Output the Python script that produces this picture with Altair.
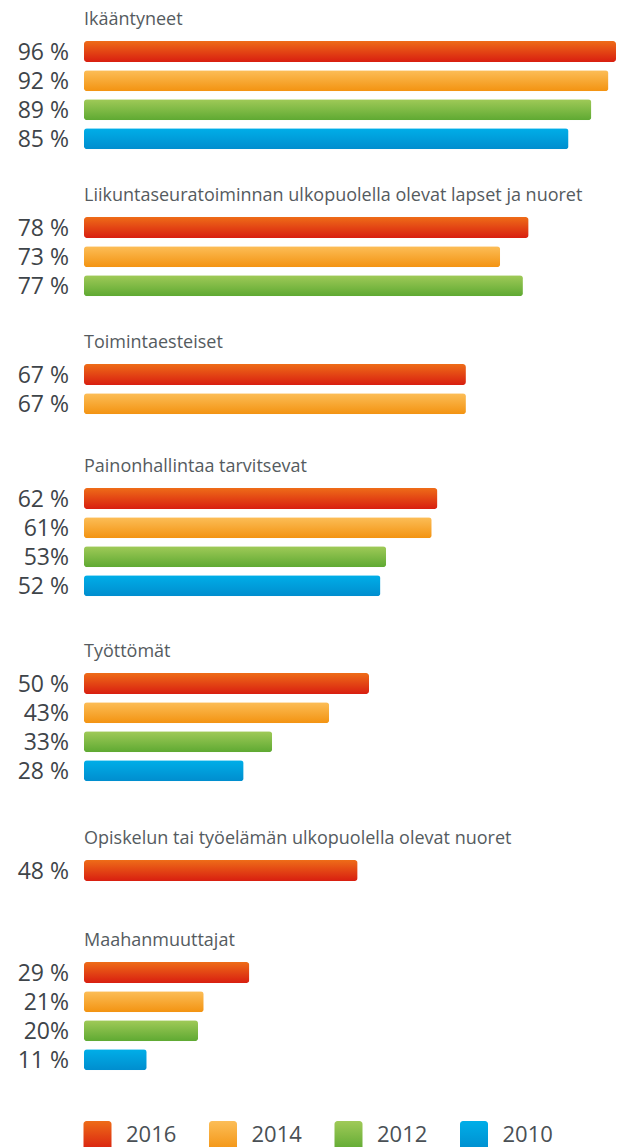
import altair as alt
import pandas as pd

groups = [
    "Ikääntyneet",
    "Liikuntaseuratoiminnan ulkopuolella olevat lapset ja nuoret",
    "Toimintaesteiset",
    "Painonhallintaa tarvitsevat",
    "Työttömät",
    "Opiskelun tai työelämän ulkopuolella olevat nuoret",
    "Maahanmuuttajat",
]
years = ["2016", "2014", "2012", "2010"]
values_2016 = [96, 78, 67, 62, 50, 48, 29]
values_2014 = [92, 73, 67, 61, 43, None, 21]
values_2012 = [89, 77, None, 53, 33, None, 20]
values_2010 = [85, None, None, 52, 28, None, 11]
labels_2016 = ["96 %", "78 %", "67 %", "62 %", "50 %", "48 %", "29 %"]
labels_2014 = ["92 %", "73 %", "67 %", "61%", "43%", None, "21%"]
labels_2012 = ["89 %", "77 %", None, "53%", "33%", None, "20%"]
labels_2010 = ["85 %", None, None, "52 %", "28 %", None, "11 %"]

series = {
    "2016": (values_2016, labels_2016),
    "2014": (values_2014, labels_2014),
    "2012": (values_2012, labels_2012),
    "2010": (values_2010, labels_2010),
}

rows = []
for gi, g in enumerate(groups):
    for yr in years:
        v, lab = series[yr][0][gi], series[yr][1][gi]
        if v is not None:
            rows.append({"group": g, "year": yr, "value": v, "label": lab})
df = pd.DataFrame(rows)

gradients = {
    "2016": ("#ee6c18", "#d81e10"),
    "2014": ("#fcbe58", "#f39311"),
    "2012": ("#a0ca58", "#5ea932"),
    "2010": ("#00aee8", "#008dce"),
}


def grad(yr):
    top, bottom = gradients[yr]
    return alt.Gradient(
        gradient="linear",
        stops=[alt.GradientStop(color=top, offset=0), alt.GradientStop(color=bottom, offset=1)],
        x1=0, x2=0, y1=0, y2=1,
    )


STEP = 29.1
BAR = 21
W = 608
PX_PER_PCT = 5.7
X_SCALE = alt.Scale(domain=[0, (W - 76) / PX_PER_PCT], range=[76, W], clamp=True, nice=False)
panel_heights = [149.8, 121, 97.3, 158.7, 160.3, 75.7, 162.5]
FONT = "Open Sans"


def panel(i):
    d = df[df["group"] == groups[i]]
    ys = list(d["year"])
    yscale = alt.Scale(domain=ys, range=[0, STEP * len(ys)], paddingInner=0, paddingOuter=0)
    base = alt.Chart(d).encode(y=alt.Y("year:N", scale=yscale, axis=None))
    layers = []
    for yr in years:
        layers.append(
            base.transform_filter(alt.datum.year == yr)
            .mark_bar(size=BAR, cornerRadius=3, color=grad(yr))
            .encode(x=alt.X("value:Q", scale=X_SCALE, axis=None))
        )
    text = base.mark_text(
        align="right", baseline="middle", font=FONT, fontSize=23, color="#3e4449", dy=1
    ).encode(x=alt.value(61), text="label:N")
    return alt.layer(*layers, text).properties(
        width=W,
        height=panel_heights[i],
        title=alt.TitleParams(
            text=groups[i], anchor="start", frame="group", dx=76, offset=8,
            fontSize=18, font=FONT, fontWeight="normal",
            color="#555b60",
        ),
    )


leg_df = pd.DataFrame({"year": years})
lx = alt.Scale(domain=years, range=[26.75, 528.75], paddingInner=0, paddingOuter=0)
leg_base = alt.Chart(leg_df).encode(x=alt.X("year:N", scale=lx, axis=None))
leg_layers = []
for yr in years:
    leg_layers.append(
        leg_base.transform_filter(alt.datum.year == yr)
        .mark_bar(size=28, cornerRadius=3, color=grad(yr))
        .encode(y=alt.value(0), y2=alt.value(30))
    )
leg_text = leg_base.mark_text(
    align="left", baseline="middle", font=FONT, fontSize=22, color="#4a5055", dx=28.5
).encode(y=alt.value(14), text="year:N")
legend = alt.layer(*leg_layers, leg_text).properties(width=W, height=23)

chart = (
    alt.vconcat(*[panel(i) for i in range(len(groups))], legend, spacing=0)
    .properties(padding={"top": 3, "left": 0, "right": 0, "bottom": 0})
    .configure_view(stroke=None)
)

chart.save("out.html", embed_options={"renderer": "svg", "actions": False})
